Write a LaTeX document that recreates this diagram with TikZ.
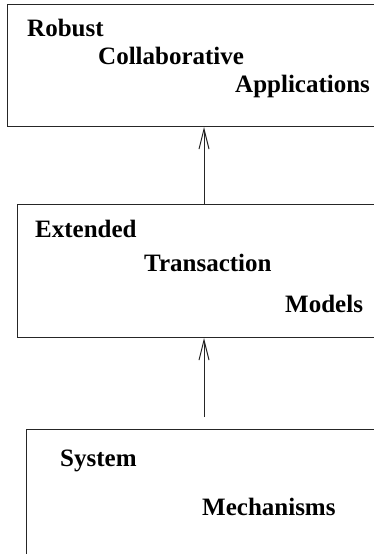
\documentclass[tikz,border=0pt]{standalone}
\usepackage{fontspec}
\setmainfont{Liberation Serif}
\usetikzlibrary{arrows.meta}
\tikzset{
  layerbox/.style={draw=black!85, line width=1pt, rectangle, inner sep=0pt, anchor=north west},
  lbl/.style={anchor=base west, inner sep=0pt, font=\bfseries\fontsize{25}{30}\selectfont},
  arr/.style={draw=black!85, line width=1pt, -{Straight Barb[length=20pt,width=10pt]}}
}
\begin{document}
\begin{tikzpicture}[x=1pt,y=-1pt]
\useasboundingbox (0,0) rectangle (374,554);
\clip (0,0) rectangle (374,554);
% boxes (cut off at the right, third at the bottom)
\node[layerbox, minimum width=420pt, minimum height=122pt] (box1) at (7,4) {};
\node[layerbox, minimum width=420pt, minimum height=133pt] (box2) at (17,204) {};
\node[layerbox, minimum width=420pt, minimum height=200pt] (box3) at (26,429) {};
% labels
\node[lbl] (t1) at (27,36) {Robust};
\node[lbl] (t2) at (98,64) {Collaborative};
\node[lbl] (t3) at (235,92) {Applications};
\node[lbl] (t4) at (35,237) {Extended};
\node[lbl] (t5) at (144,271) {Transaction};
\node[lbl] (t6) at (285,312) {Models};
\node[lbl] (t7) at (60,466) {System};
\node[lbl] (t8) at (202,515) {Mechanisms};
% arrows
\coordinate (ax) at (204,0);
\coordinate (a2start) at (204,417);
\draw[arr] (box2.north -| ax) -- (box1.south -| ax);
\draw[arr] (a2start) -- (box2.south -| ax);
\end{tikzpicture}
\end{document}
